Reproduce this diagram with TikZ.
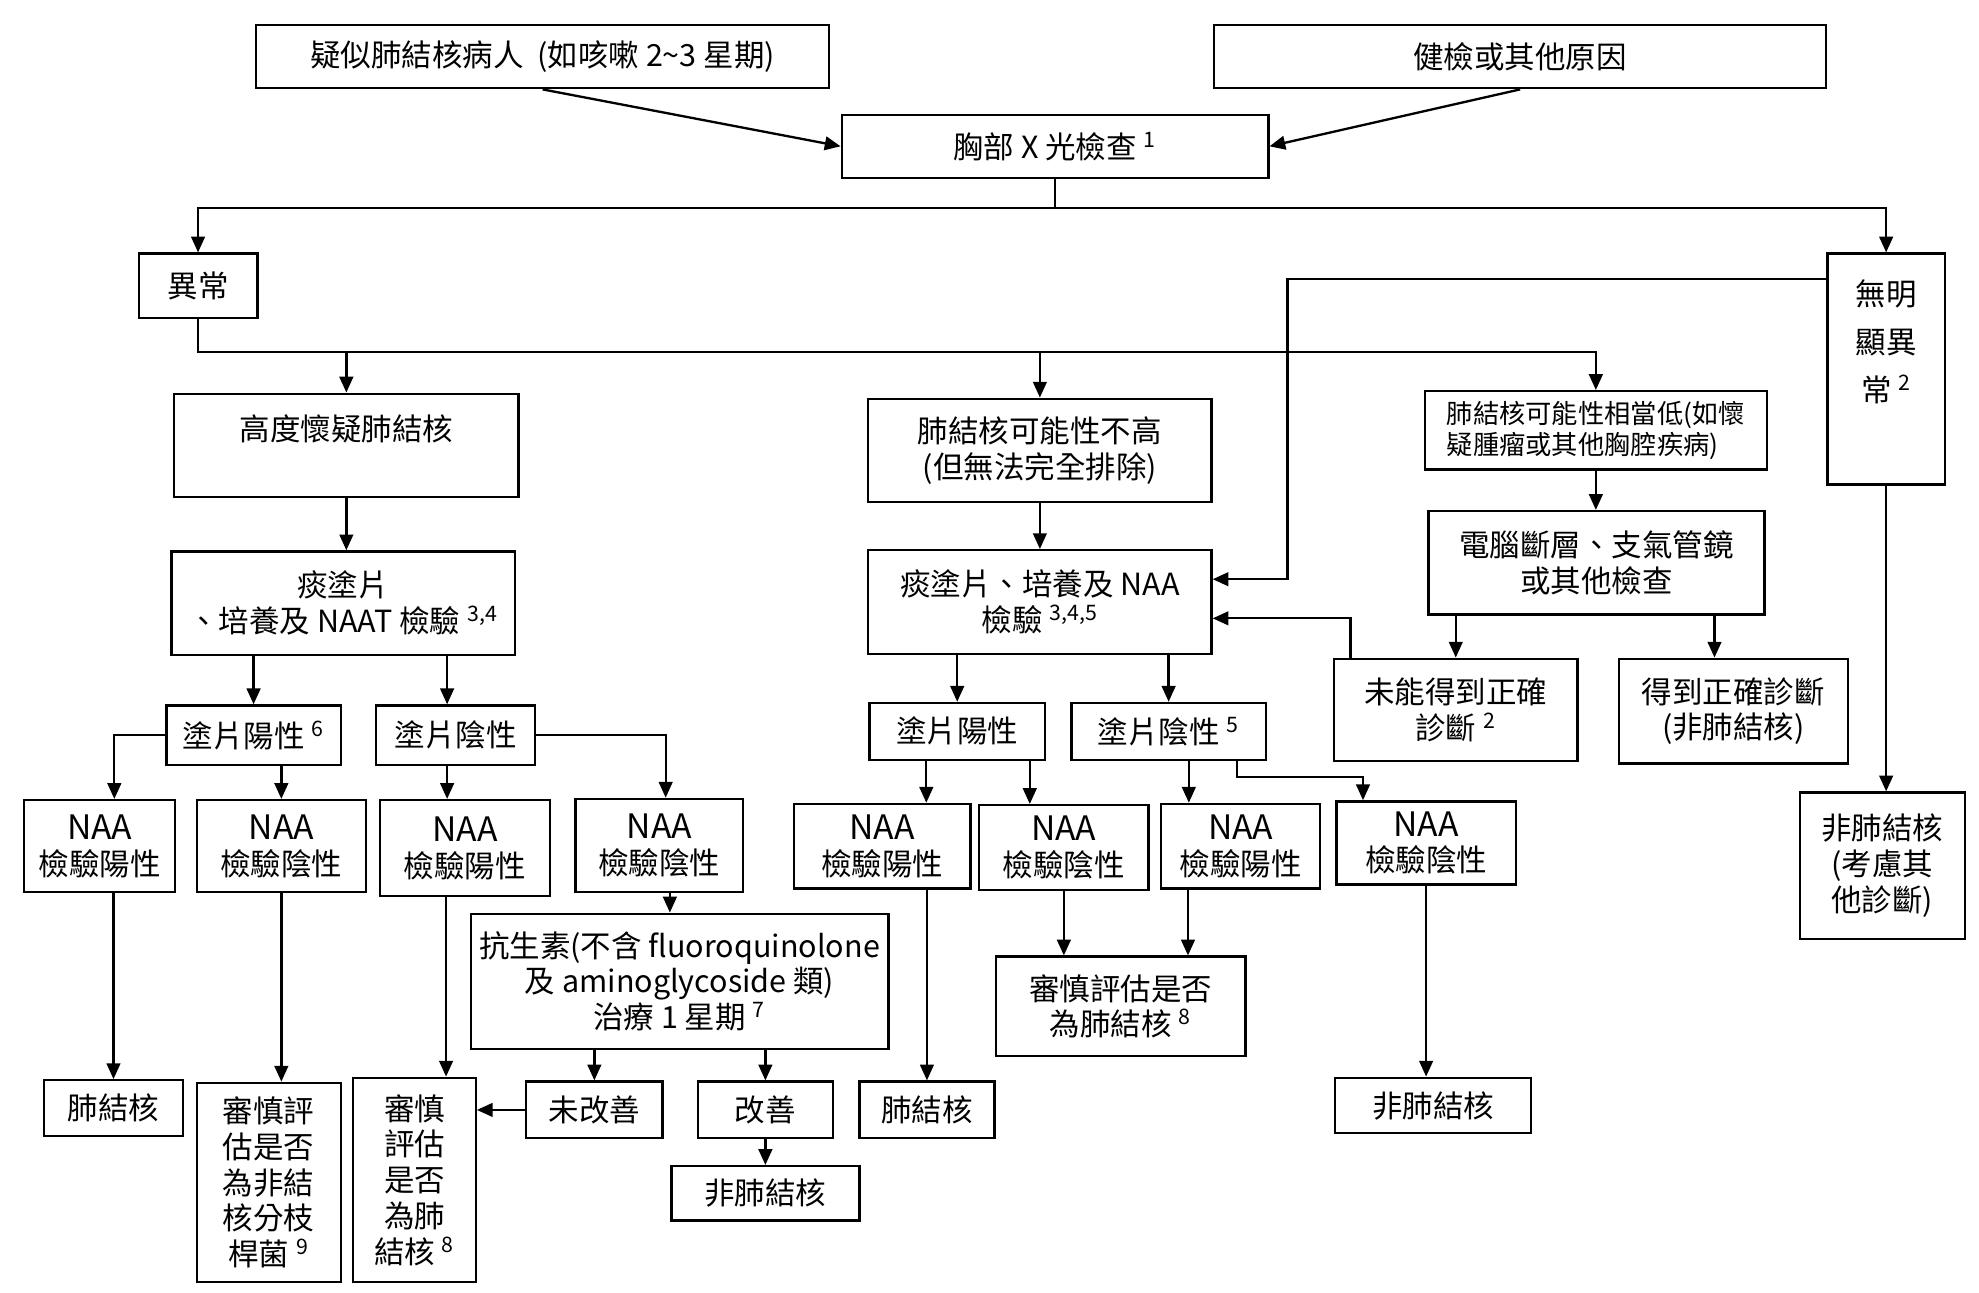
\documentclass[tikz,border=0pt]{standalone}
\usepackage{fontspec}
\setmainfont{Noto Sans CJK TC}
\usetikzlibrary{arrows.meta}

\newcommand{\naa}{{\fontsize{16}{17}\selectfont NAA}}

\tikzset{
  box/.style={draw, line width=1.1pt, anchor=north west, align=center, inner sep=1pt,
    font=\fontsize{14.5}{17}\selectfont},
  sz/.style 2 args={minimum width=#1*0.6pt, minimum height=#2*0.6pt},
  ln/.style={line width=1.1pt},
  arr/.style={line width=1.1pt, -{Triangle[length=7.5pt,width=6.5pt]}},
}

\begin{document}
\begin{tikzpicture}[x=0.6pt,y=-0.6pt]
    \useasboundingbox (0,0) rectangle (1568,1024);

    % top
    \node[box,sz={454}{50}] (susp) at (202,19) {疑似肺結核病人\ \ (如咳嗽 2\textasciitilde 3 星期)};
    \node[box,sz={485}{50}] (health) at (961,19) {健檢或其他原因};
    \node[box,sz={338}{50}] (cxr) at (666,90) {胸部 X 光檢查 \textsuperscript{1}};
    \node[box,sz={94}{51}] (abn) at (109,200) {異常};
    \node[box,sz={93}{183}] (noabn) at (1447,200) {無明\\[6pt]顯異\\[6pt]常 \textsuperscript{2}\\[10pt]\mbox{}};

    % second level
    \node[box,sz={273}{82}] (high) at (137,311) {高度懷疑肺結核\\\mbox{}};
    \node[box,sz={272}{82}] (notlow) at (687,315) {肺結核可能性不高\\(但無法完全排除)};
    \node[box,sz={271}{62},align=left,font=\fontsize{12.5}{15}\selectfont] (verylow) at (1128,309) {肺結核可能性相當低(如懷\\疑腫瘤或其他胸腔疾病)};
    \node[box,sz={266}{82}] (ct) at (1131,404) {電腦斷層、支氣管鏡\\或其他檢查};
    \node[box,sz={272}{82}] (smearA) at (135,436) {痰塗片\\、培養及 NAAT 檢驗 \textsuperscript{3,4}};
    \node[box,sz={272}{82}] (smearB) at (687,435) {痰塗片、培養及 NAA\\檢驗 \textsuperscript{3,4,5}};
    \node[box,sz={193}{81}] (fail) at (1056,521) {未能得到正確\\診斷 \textsuperscript{2}};
    \node[box,sz={181}{83}] (found) at (1282,521) {得到正確診斷\\(非肺結核)};
    \node[box,sz={131}{116}] (otherdx) at (1425,627) {非肺結核\\(考慮其\\他診斷)};

    % left branch
    \node[box,sz={138}{47}] (posA) at (131,558) {塗片陽性 \textsuperscript{6}};
    \node[box,sz={126}{47}] (negA) at (297,558) {塗片陰性};
    \node[box,sz={120}{73}] (naaA1) at (18,633) {\naa\\檢驗陽性};
    \node[box,sz={134}{73}] (naaA2) at (155,633) {\naa\\檢驗陰性};
    \node[box,sz={135}{76}] (naaA3) at (300,633) {\naa\\檢驗陽性};
    \node[box,sz={133}{74}] (naaA4) at (455,632) {\naa\\檢驗陰性};
    \node[box,sz={110}{44}] (tbA) at (34,855) {肺結核};
    \node[box,sz={114}{158}] (ntm) at (155,857) {審慎評\\估是否\\為非結\\核分枝\\桿菌 \textsuperscript{9}};
    \node[box,sz={97}{162}] (evalA) at (279,853) {審慎\\評估\\是否\\為肺\\結核 \textsuperscript{8}};
    \node[box,sz={331}{107}] (abx) at (372,723) {抗生素(不含 fluoroquinolone\\及 aminoglycoside 類)\\治療 1 星期 \textsuperscript{7}};
    \node[box,sz={108}{45}] (noimp) at (416,856) {未改善};
    \node[box,sz={107}{45}] (imp) at (552,856) {改善};
    \node[box,sz={149}{43}] (nontbA) at (531,923) {非肺結核};

    % middle branch
    \node[box,sz={139}{45}] (posB) at (688,556) {塗片陽性};
    \node[box,sz={154}{45}] (negB) at (848,556) {塗片陰性 \textsuperscript{5}};
    \node[box,sz={140}{67}] (naaB1) at (628,636) {\naa\\檢驗陽性};
    \node[box,sz={134}{67}] (naaB2) at (775,637) {\naa\\檢驗陰性};
    \node[box,sz={126}{67}] (naaB3) at (919,636) {\naa\\檢驗陽性};
    \node[box,sz={142}{66}] (naaB4) at (1058,634) {\naa\\檢驗陰性};
    \node[box,sz={107}{45}] (tbB) at (680,856) {肺結核};
    \node[box,sz={198}{79}] (evalB) at (788,757) {審慎評估是否\\為肺結核 \textsuperscript{8}};
    \node[box,sz={155}{44}] (nontbB) at (1057,853) {非肺結核};

    % arrows: top
    \draw[arr] (susp.south) -- (cxr.west);
    \draw[arr] (health.south) -- (cxr.east);
    \draw[ln] (cxr.south) -- ++(0,23) coordinate (xbus);
    \draw[arr] (xbus) -| (abn.north);
    \draw[arr] (xbus) -| (noabn.north);
    \draw[arr] (abn.south) -- ++(0,26) coordinate (abus) -| (verylow.north);
    \draw[arr] (abus -| high.north) -- (high.north);
    \draw[arr] (abus -| notlow.north) -- (notlow.north);

    % arrows: right side
    \draw[arr] ([yshift=-12.6pt]noabn.north west) -- ++(-427,0) |- ([yshift=10.8pt]smearB.east);
    \draw[arr] (noabn.south) -- (noabn.south |- otherdx.north);
    \draw[arr] (verylow.south) -- (verylow.south |- ct.north);
    \draw[arr] (fail.north |- ct.south) -- (fail.north);
    \draw[arr] ([xshift=-9pt]found.north |- ct.south) -- ([xshift=-9pt]found.north);
    \draw[arr] ([xshift=8.4pt]fail.north west) |- ([yshift=-7.8pt]smearB.east);

    % arrows: left branch
    \draw[arr] (high.south) -- (high.south |- smearA.north);
    \draw[arr] (posA.north |- smearA.south) -- (posA.north);
    \draw[arr] ([xshift=-4pt]negA.north |- smearA.south) -- ([xshift=-4pt]negA.north);
    \draw[arr] (posA.west) -| ([xshift=7pt]naaA1.north);
    \draw[arr] (naaA2.north |- posA.south) -- (naaA2.north);
    \draw[arr] ([xshift=-4pt]negA.south) -- ([xshift=-4pt]negA.south |- naaA3.north);
    \draw[arr] (negA.east) -| ([xshift=3pt]naaA4.north);
    \draw[arr] (tbA.north |- naaA1.south) -- (tbA.north);
    \draw[arr] (naaA2.south) -- (naaA2.south |- ntm.north);
    \draw[arr] ([xshift=-9pt]naaA3.south) -- ([xshift=-9pt]naaA3.south |- evalA.north);
    \draw[arr] ([xshift=5pt]naaA4.south) -- ([xshift=5pt]naaA4.south |- abx.north);
    \draw[arr] (noimp.north |- abx.south) -- (noimp.north);
    \draw[arr] (imp.north |- abx.south) -- (imp.north);
    \draw[arr] (noimp.west) -- (noimp.west -| evalA.east);
    \draw[arr] (imp.south) -- (nontbA.north);

    % arrows: middle branch
    \draw[arr] (notlow.south) -- (notlow.south |- smearB.north);
    \draw[arr] (posB.north |- smearB.south) -- (posB.north);
    \draw[arr] (negB.north |- smearB.south) -- (negB.north);
    \draw[arr] ([xshift=-14.7pt]posB.south) -- ([xshift=-14.7pt]posB.south |- naaB1.north);
    \draw[arr] ([xshift=34.5pt]posB.south) -- ([xshift=34.5pt]posB.south |- naaB2.north);
    \draw[arr] ([xshift=9.6pt]negB.south) -- ([xshift=9.6pt]negB.south |- naaB3.north);
    \draw[arr] ([xshift=32.4pt]negB.south) -- ++(0,13) -| ([xshift=-30pt]naaB4.north);
    \draw[arr] (tbB.north |- naaB1.south) -- (tbB.north);
    \draw[arr] (naaB2.south) -- (naaB2.south |- evalB.north);
    \draw[arr] ([xshift=-25pt]naaB3.south) -- ([xshift=-25pt]naaB3.south |- evalB.north);
    \draw[arr] (naaB4.south) -- (naaB4.south |- nontbB.north);
\end{tikzpicture}
\end{document}
